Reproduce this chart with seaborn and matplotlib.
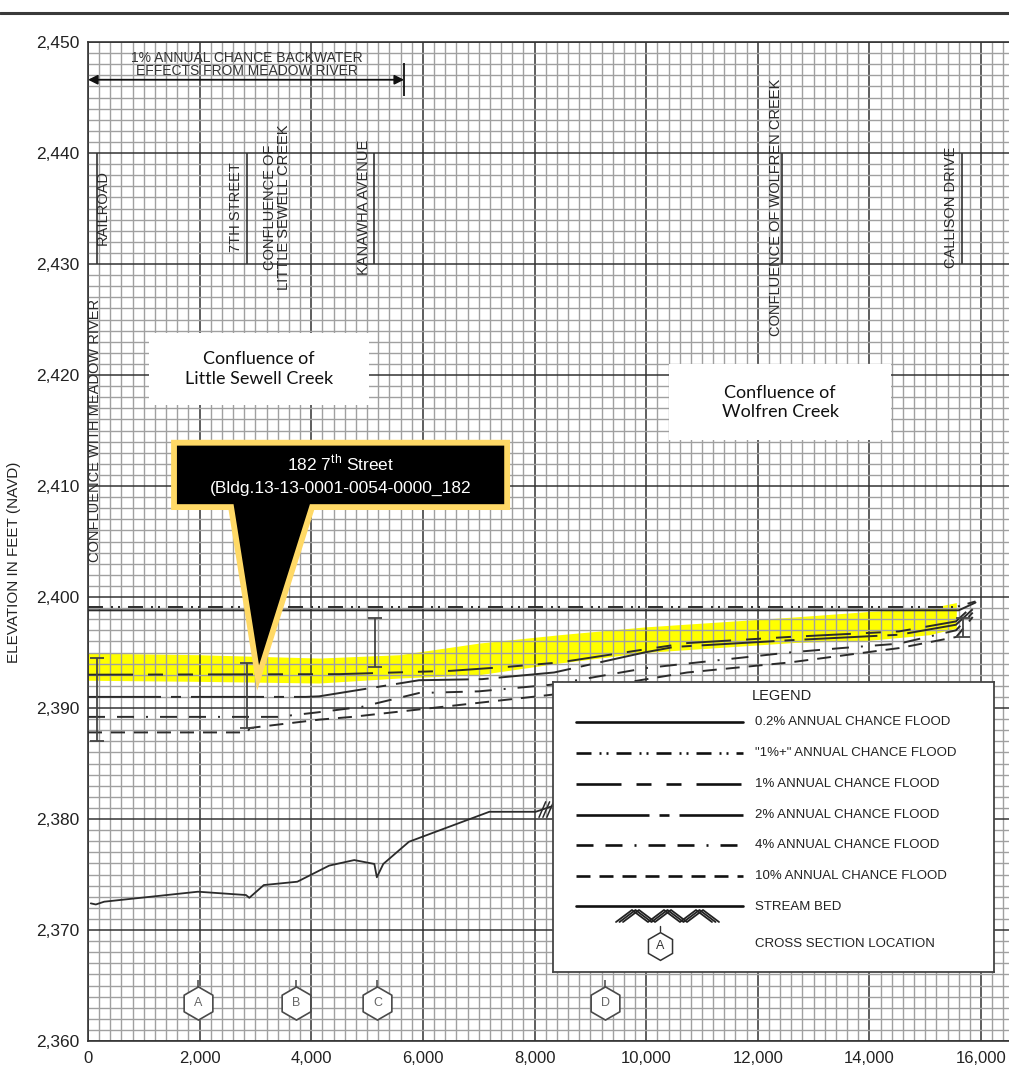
import numpy as np
import pandas as pd
import matplotlib
matplotlib.use("Agg")
import matplotlib.pyplot as plt
import matplotlib.font_manager as fm
import seaborn as sns
from matplotlib.patches import Polygon, Rectangle
from matplotlib.lines import Line2D
from matplotlib.ticker import MultipleLocator, FuncFormatter

sns.set_theme(style="white")
plt.rcParams['font.family'] = ['Liberation Sans', 'DejaVu Sans']
plt.rcParams['lines.scale_dashes'] = False
plt.rcParams['mathtext.fontset'] = 'custom'
plt.rcParams['mathtext.rm'] = 'Liberation Sans'

_names = {f.name for f in fm.fontManager.ttflist}
NARROW = 'Liberation Sans Narrow' if 'Liberation Sans Narrow' in _names else 'Liberation Sans'

# ---------------- data ----------------
X_TICKS = [0, 2000, 4000, 6000, 8000, 10000, 12000, 14000, 16000]
Y_TICKS = [2360, 2370, 2380, 2390, 2400, 2410, 2420, 2430, 2440, 2450]

STREAM_X = [50, 140, 290, 1970, 2830, 2890, 3150, 3750, 4320, 4770, 5130, 5175, 5290, 5750, 7190, 8020, 8400]
STREAM_Y = [2372.4, 2372.3, 2372.55, 2373.45, 2373.15, 2372.9, 2374.05, 2374.35, 2375.8, 2376.3,
            2375.95, 2374.75, 2375.95, 2377.95, 2380.65, 2380.65, 2381.3]

FLOOD_LABELS = ['0.2% ANNUAL CHANCE FLOOD', '"1%+" ANNUAL CHANCE FLOOD', '1% ANNUAL CHANCE FLOOD',
                '2% ANNUAL CHANCE FLOOD', '4% ANNUAL CHANCE FLOOD', '10% ANNUAL CHANCE FLOOD']

P02_X = [0, 15600, 15900]
P02_Y = [2398.8, 2398.8, 2399.5]
P1P_X = [0, 15550, 15900]
P1P_Y = [2399.1, 2399.1, 2399.6]
P1_X = [0, 4500, 6500, 7500, 8440, 10000, 10735, 12560, 14530, 15550, 15850]
P1_Y = [2393.0, 2393.05, 2393.35, 2393.7, 2394.1, 2395.3, 2395.85, 2396.4, 2396.9, 2397.8, 2399.2]
P2_X = [0, 3900, 4140, 5930, 7060, 8350, 9964, 10500, 12560, 14530, 15550, 15850]
P2_Y = [2391.0, 2391.0, 2391.05, 2392.5, 2392.6, 2393.2, 2395.0, 2395.5, 2396.1, 2396.6, 2397.5, 2398.9]
P4_X = [0, 3400, 4100, 4900, 5930, 7000, 8300, 10000, 12560, 13500, 14530, 15550, 15850]
P4_Y = [2389.2, 2389.2, 2389.6, 2390.1, 2391.35, 2391.5, 2392.1, 2393.6, 2395.0, 2395.4, 2395.8, 2397.0, 2398.6]
P10_X = [0, 2850, 2900, 4140, 4730, 8315, 10735, 12563, 14534, 15556, 15850]
P10_Y = [2387.8, 2387.8, 2388.2, 2388.95, 2389.2, 2391.2, 2393.2, 2394.1, 2395.4, 2396.4, 2398.2]

HIGHLIGHT_X = [0, 1990, 4140, 5575, 7007, 8441, 9964, 12652, 13996, 15072, 15556]
HIGHLIGHT_LO = [2392.5, 2392.4, 2392.25, 2392.7, 2393.0, 2394.05, 2395.0, 2395.9, 2396.1, 2396.6, 2397.2]
HIGHLIGHT_HI = [2394.95, 2394.8, 2394.5, 2394.8, 2395.85, 2396.6, 2397.3, 2398.2, 2398.7, 2399.0, 2399.5]

BRIDGE_X = [155, 2850, 5145, 15680]
BRIDGE_TOP = [2394.5, 2394.05, 2398.1, 2398.1]
BRIDGE_LOW = [2387.0, 2388.2, 2393.7, 2396.4]

ROAD_LABELS = ['RAILROAD', '7TH STREET', 'CONFLUENCE OF\nLITTLE SEWELL CREEK', 'KANAWHA AVENUE',
               'CONFLUENCE OF WOLFREN CREEK', 'CALLISON DRIVE']
ROAD_LABEL_X = [269, 2652, 3387, 4946, 12330, 15466]
ROAD_LINE_X = [155, 2849, 5125, 12437, 15663]

XS_LETTERS = ['A', 'B', 'C', 'D']
XS_X = [1971, 3722, 5185, 9265]
XS_ELEV = 2363.4

BACKWATER_END = 5663

LEGEND_TITLE = 'LEGEND'
LEGEND_EXTRA = ['STREAM BED', 'CROSS SECTION LOCATION']

CALLOUT_LINE1 = '182 7$^{\\mathrm{th}}$ Street'
CALLOUT_LINE2 = '(Bldg.13-13-0001-0054-0000_182'

# ---------------- styles ----------------
W, H = 1009, 1069
INK = '#2b2b2b'
DASHES_PX = [(), (15, 8, 2, 5, 2, 8), (45, 15, 15, 15, 15, 15), (73, 10, 10, 10),
             (17, 12, 17, 12, 2, 12), (14, 9)]
DASHES = ["" if len(d) == 0 else tuple(v * 0.72 for v in d) for d in DASHES_PX]

fig = plt.figure(figsize=(W / 100, H / 100), dpi=100)
ax = fig.add_axes([88 / W, 1 - 1041 / H, (W - 88) / W, 999 / H])
ax.set_xlim(0, 16500)
ax.set_ylim(2360, 2450)

# grid
ax.xaxis.set_major_locator(MultipleLocator(2000))
ax.xaxis.set_minor_locator(MultipleLocator(200))
ax.yaxis.set_major_locator(MultipleLocator(10))
ax.yaxis.set_minor_locator(MultipleLocator(1))
ax.set_axisbelow('line')
ax.grid(which='minor', color='#a0a0a0', lw=1.0)
ax.grid(which='major', color='#333333', lw=1.1)
ax.tick_params(which='both', length=0)
ax.tick_params(axis='x', pad=7, labelsize=12, labelcolor='#222222')
ax.tick_params(axis='y', pad=6, labelcolor='#222222')
ax.xaxis.set_major_formatter(FuncFormatter(lambda v, p: f"{int(v):,}"))
ax.yaxis.set_major_formatter(FuncFormatter(lambda v, p: f"{int(v):,}"))
for s in ['left', 'top', 'bottom']:
    ax.spines[s].set_color('#333333')
    ax.spines[s].set_linewidth(1.2)
ax.spines['right'].set_visible(False)

# yellow highlight
ax.fill_between(HIGHLIGHT_X, HIGHLIGHT_LO, HIGHLIGHT_HI, color='#FFFF00', lw=0, zorder=1)

# flood profiles
frames = []
for lab, xs, ys in zip(FLOOD_LABELS, [P02_X, P1P_X, P1_X, P2_X, P4_X, P10_X],
                       [P02_Y, P1P_Y, P1_Y, P2_Y, P4_Y, P10_Y]):
    frames.append(pd.DataFrame({'station': xs, 'elev': ys, 'flood': lab}))
df = pd.concat(frames, ignore_index=True)
sns.lineplot(data=df, x='station', y='elev', style='flood', style_order=FLOOD_LABELS,
             dashes=DASHES, color=INK, lw=1.4, estimator=None, sort=False,
             legend=False, ax=ax, zorder=3)

# stream bed
sns.lineplot(x=STREAM_X, y=STREAM_Y, color=INK, lw=1.3, estimator=None, sort=False, ax=ax, zorder=3)
for k in range(3):
    x0 = STREAM_X[-2] + 60 + k * 70
    ax.plot([x0, x0 + 120], [STREAM_Y[-2] - 0.5, STREAM_Y[-2] + 0.9], color=INK, lw=1.1, zorder=3)

ax.set_xlabel('')
ax.set_ylabel('')
ax.set_xticks(X_TICKS)
ax.set_yticks(Y_TICKS)
ax.set_xlim(0, 16500)
ax.set_ylim(2360, 2450)
for lab in ax.get_yticklabels():
    lab.set_fontfamily(NARROW)
    lab.set_fontsize(12.5)

# bridges
mid = [(a + b) / 2 for a, b in zip(BRIDGE_TOP, BRIDGE_LOW)]
half = [(a - b) / 2 for a, b in zip(BRIDGE_TOP, BRIDGE_LOW)]
ax.errorbar(BRIDGE_X, mid, yerr=half, fmt='none', ecolor='#444444', elinewidth=1.3,
            capsize=5, capthick=1.3, zorder=4)

# road labels
ax.vlines(ROAD_LINE_X, 2430, 2440, color='#333333', lw=1.2, zorder=3)
for txt, x in zip(ROAD_LABELS, ROAD_LABEL_X):
    ax.text(x, 2435.1, txt, rotation=90, ha='center', va='center', fontsize=10.5,
            color='#2a2a2a', linespacing=0.95, multialignment='center', zorder=4)
ax.text(125, 2415.0, 'CONFLUENCE WITH MEADOW RIVER', rotation=90, ha='center', va='center',
        fontsize=10.5, color='#2a2a2a', zorder=4)

# backwater annotation
ax.annotate('', xy=(0, 2446.6), xytext=(BACKWATER_END, 2446.6),
            arrowprops=dict(arrowstyle='<|-|>', color='#111111', lw=1.3, mutation_scale=14,
                            shrinkA=0, shrinkB=0), zorder=4)
ax.vlines([BACKWATER_END], 2445.1, 2448.1, color='#111111', lw=1.3, zorder=4)
ax.text(2840, 2448.55, '1% ANNUAL CHANCE BACKWATER', ha='center', va='center', fontsize=10,
        color='#333333', zorder=4)
ax.text(2840, 2447.4, 'EFFECTS FROM MEADOW RIVER', ha='center', va='center', fontsize=10,
        color='#333333', zorder=4)

# cross sections
sns.scatterplot(x=XS_X, y=[XS_ELEV] * len(XS_X), marker='h', s=570, color='white',
                edgecolor='#4a4a4a', linewidth=1.2, ax=ax, zorder=6, legend=False)
ax.vlines(XS_X, XS_ELEV + 1.45, XS_ELEV + 2.1, color='#444444', lw=1.1, zorder=6)
for l, x in zip(XS_LETTERS, XS_X):
    ax.text(x, XS_ELEV, l, ha='center', va='center', fontsize=9, color='#666666', zorder=7)
ax.set_xlabel('')
ax.set_ylabel('')

# white text boxes
ax.add_patch(Rectangle((1093, 2417.3), 5036 - 1093, 2423.8 - 2417.3, facecolor='white',
                       edgecolor='none', zorder=5))
ax.text((1093 + 5036) / 2, 2420.55, 'Confluence of\nLittle Sewell Creek', ha='center', va='center',
        fontsize=13, family=['Lato', 'DejaVu Sans'], color='#111111', linespacing=1.25, zorder=6)
ax.add_patch(Rectangle((10412, 2414.1), 14391 - 10412, 2421.0 - 2414.1, facecolor='white',
                       edgecolor='none', zorder=5))
ax.text((10412 + 14391) / 2, 2417.55, 'Confluence of\nWolfren Creek', ha='center', va='center',
        fontsize=13, family=['Lato', 'DejaVu Sans'], color='#111111', linespacing=1.25, zorder=6)

# callout
bx0, bx1, by0, by1 = 1541, 7509, 2408.1, 2413.9
callout = Polygon([(bx0, by1), (bx1, by1), (bx1, by0), (4014, by0), (3047, 2392.7),
                   (2563, by0), (bx0, by0)], closed=True, facecolor='black',
                  edgecolor='#FFD966', lw=4.2, joinstyle='miter', zorder=8)
ax.add_patch(callout)
ax.text((bx0 + bx1) / 2, 2412.1, CALLOUT_LINE1, ha='center', va='center', fontsize=12.5,
        color='white', zorder=9)
ax.text((bx0 + bx1) / 2, 2409.75, CALLOUT_LINE2, ha='center', va='center', fontsize=12.5,
        color='white', zorder=9)

# axis label
fig.text(14 / W, 1 - 562 / H, 'ELEVATION IN FEET (NAVD)', rotation=90, ha='center', va='center',
         fontsize=11, color='#222222')

# top frame line
fig.add_artist(Line2D([0, 1], [1 - 13 / H, 1 - 13 / H], color='#3a3a3a', lw=2.2))

# legend panel
lax = fig.add_axes([553 / W, 1 - 972 / H, 441 / W, 290 / H])
lax.set_zorder(10)
lax.set_facecolor('white')
lax.set_xlim(0, 441)
lax.set_ylim(290, 0)
lax.set_xticks([])
lax.set_yticks([])
for s in lax.spines.values():
    s.set_color('#444444')
    s.set_linewidth(1.3)
lax.text(229, 14, LEGEND_TITLE, ha='center', va='center', fontsize=10.5, color='#222222')
row_y = [40, 71, 102, 133, 163, 194]
for lab, d, ry in zip(FLOOD_LABELS, DASHES, row_y):
    kw = {} if d == "" else {'dashes': d}
    lax.plot([23, 190], [ry, ry], color='#111111', lw=1.9, **kw)
    lax.text(202, ry, lab, ha='left', va='center', fontsize=9.5, color='#222222')
lax.plot([23, 190], [224, 224], color='#111111', lw=1.9)
for off in [0, 3.5, 7]:
    zx = np.arange(63, 160, 16) + off
    zy = np.where(np.arange(len(zx)) % 2 == 0, 240, 228)
    lax.plot(zx, zy, color='#222222', lw=1.3)
lax.text(202, 225, LEGEND_EXTRA[0], ha='left', va='center', fontsize=9.5, color='#222222')
lax.plot([107], [264], marker='h', ms=20, mfc='white', mec='#333333', mew=1.1)
lax.plot([107, 107], [249, 244], color='#333333', lw=1.0)
lax.text(107, 264, 'A', ha='center', va='center', fontsize=9, color='#333333')
lax.text(202, 262, LEGEND_EXTRA[1], ha='left', va='center', fontsize=9.5, color='#222222')

fig.savefig('out.png', dpi=100, facecolor='white')
